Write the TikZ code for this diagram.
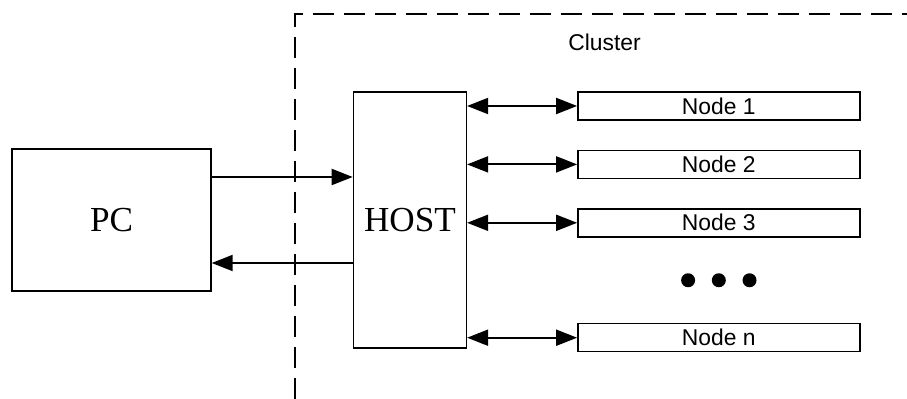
\documentclass[tikz,border=0pt]{standalone}
\usepackage{fontspec}
\setmainfont{Liberation Serif}
\setsansfont{Liberation Sans}
\usetikzlibrary{arrows.meta,positioning,calc}

\begin{document}
\begin{tikzpicture}[
    big/.style={rectangle,draw,line width=0.8pt,inner sep=0pt,font=\fontsize{20}{24}\selectfont},
    unit/.style={rectangle,draw,line width=0.8pt,inner sep=0pt,minimum width=5.64cm,minimum height=0.56cm,
                 font=\sffamily\fontsize{13}{15}\selectfont},
    arr/.style={-{Triangle[length=0.42cm,width=0.32cm]},line width=1.1pt},
    biarr/.style={{Triangle[length=0.42cm,width=0.32cm]}-{Triangle[length=0.42cm,width=0.32cm]},line width=1.1pt},
    dot/.style={circle,fill,inner sep=0pt,minimum size=0.28cm}
]
\useasboundingbox (0,0) rectangle (18.14,7.98);

% cluster boundary
\draw[dashed,dash pattern=on 0.42cm off 0.2cm,line width=0.75pt] (5.9,0) -- (5.9,7.70) -- (18.3,7.70);
\node[font=\sffamily\fontsize{13}{15}\selectfont] (cluster) at (12.09,7.14) {Cluster};

% PC and host
\node[big,minimum width=3.98cm,minimum height=2.84cm] (pc) at (2.23,3.58) {PC};
\node[big,minimum width=2.26cm,minimum height=5.12cm,right=2.82cm of pc] (host) {HOST};

% compute nodes
\node[unit,below right=0cm and 2.2cm of host.north east] (n1) {Node 1};
\node[unit,below=0.58cm of n1] (n2) {Node 2};
\node[unit,below=0.58cm of n2] (n3) {Node 3};
\node[unit,below=1.71cm of n3] (nn) {Node n};

\node[dot] (d2) at ($(n3.south)!0.5!(nn.north)$) {};
\node[dot,left=0.32cm of d2] (d1) {};
\node[dot,right=0.32cm of d2] (d3) {};

% links
\coordinate[above=0.86cm of pc.east] (pcout);
\coordinate[below=0.86cm of pc.east] (pcin);
\draw[arr] (pcout) -- (pcout -| host.west);
\draw[arr] (pcin -| host.west) -- (pcin);

\foreach \n in {n1,n2,n3,nn}
  \draw[biarr] (\n.west -| host.east) -- (\n.west);
\end{tikzpicture}
\end{document}
